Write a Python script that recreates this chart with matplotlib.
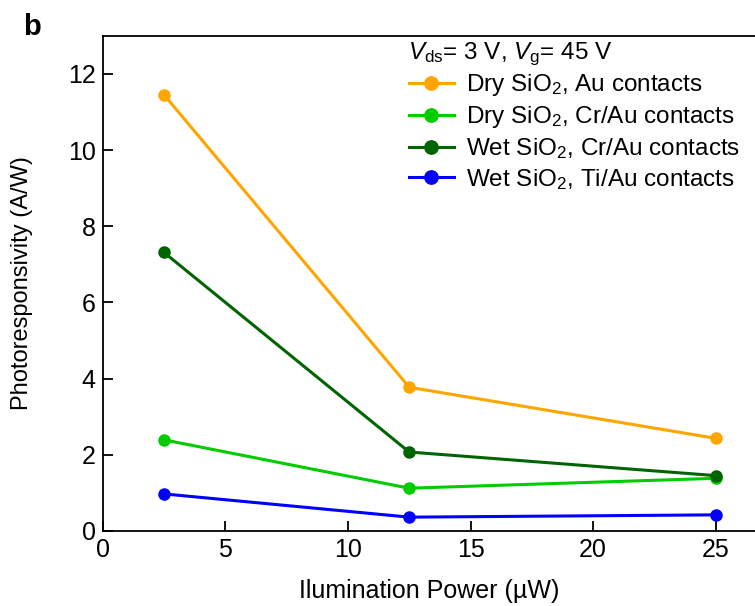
import matplotlib
matplotlib.use("Agg")
import matplotlib.pyplot as plt

plt.rcParams['font.family'] = ['Liberation Sans', 'DejaVu Sans']
plt.rcParams['mathtext.fontset'] = 'custom'
plt.rcParams['mathtext.rm'] = 'Liberation Sans'
plt.rcParams['mathtext.it'] = 'Liberation Sans:italic'

power = [2.5, 12.5, 25]
dry_au = [11.45, 3.77, 2.43]
dry_crau = [2.39, 1.12, 1.38]
wet_crau = [7.31, 2.07, 1.45]
wet_tiau = [0.97, 0.36, 0.42]

labels = [r"Dry SiO$_2$, Au contacts",
          r"Dry SiO$_2$, Cr/Au contacts",
          r"Wet SiO$_2$, Cr/Au contacts",
          r"Wet SiO$_2$, Ti/Au contacts"]
colors = ["#FFA500", "#00CC00", "#006400", "#0000FF"]

fig = plt.figure(figsize=(7.55, 6.06), dpi=100)
ax = fig.add_axes([0.136, 0.124, 0.864, 0.817])

for vals, lab, c in zip([dry_au, dry_crau, wet_crau, wet_tiau], labels, colors):
    ax.plot(power, vals, "-o", color=c, lw=2.2, ms=8, label=lab)

ax.set_xlim(0, 26.6)
ax.set_ylim(0, 13)
ax.set_xticks([0, 5, 10, 15, 20, 25])
ax.set_yticks([0, 2, 4, 6, 8, 10, 12])
ax.tick_params(direction="in", length=7, width=1.3, labelsize=18, pad=5)
ax.spines['right'].set_visible(False)
for s in ['left', 'bottom', 'top']:
    ax.spines[s].set_linewidth(1.3)

ax.set_xlabel("Ilumination Power (µW)", fontsize=18)
ax.set_ylabel("Photoresponsivity (A/W)", fontsize=17)
ax.xaxis.set_label_coords(0.5, -0.097)
ax.yaxis.set_label_coords(-0.107, 0.5)

ax.text(0.468, 0.962, r"$V_{\rm ds}$= 3 V, $V_{\rm g}$= 45 V", transform=ax.transAxes,
        fontsize=17.5, va="center", ha="left")
ax.legend(loc="upper left", bbox_to_anchor=(0.469, 0.926), frameon=False,
          fontsize=17.5, handlelength=1.85, handletextpad=0.5, labelspacing=0.24,
          borderaxespad=0, borderpad=0, markerscale=1.2)

fig.text(0.03, 0.955, "b", fontsize=21, fontweight="bold", va="center")

fig.savefig("out.png", dpi=100)
